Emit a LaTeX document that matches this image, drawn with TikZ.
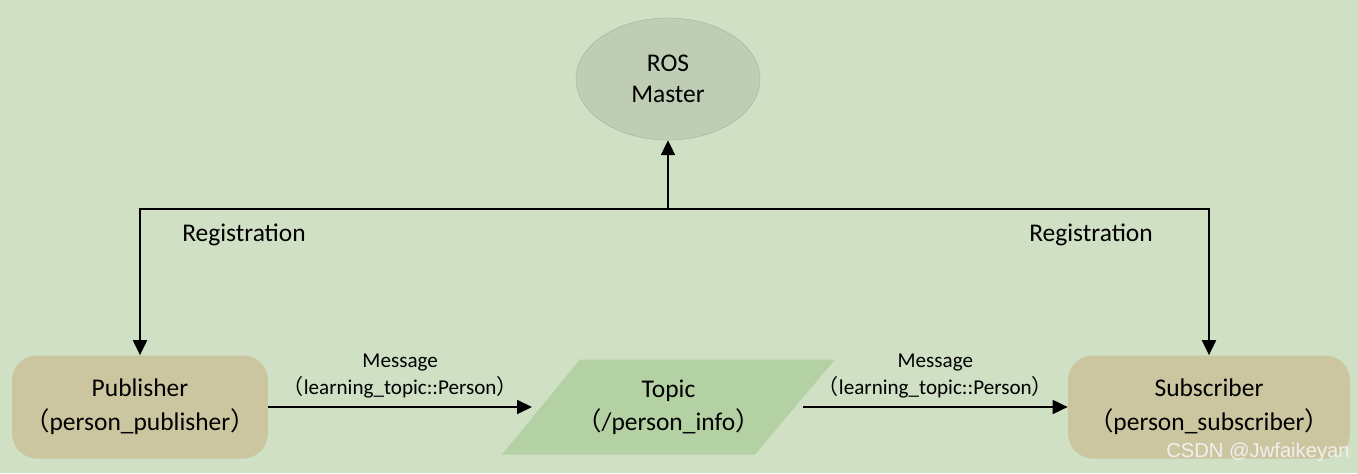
\documentclass[tikz,border=0pt]{standalone}
\usepackage{fontspec}
\setmainfont{Carlito}
\newfontfamily\cjk{Noto Sans CJK SC}
\newfontfamily\wmfont{Liberation Sans}
\usepackage{xcolor}
\usepackage{tikz}
\usetikzlibrary{arrows.meta,positioning,shapes.geometric}

\definecolor{bgcol}{RGB}{207,224,196}
\definecolor{mastercol}{RGB}{190,205,180}
\definecolor{nodecol}{RGB}{203,198,160}
\definecolor{topiccol}{RGB}{180,209,164}

\newcommand{\zlp}{{\cjk （}}
\newcommand{\zrp}{{\cjk ）}}

\begin{document}
\begin{tikzpicture}[
  x=1cm,
  y=1cm,
  box/.style={draw=none,fill=nodecol,rounded corners=0.5cm,minimum height=2.06cm,align=center,font=\fontsize{14.5}{19.5}\selectfont},
  txt/.style={font=\fontsize{14.5}{18}\selectfont,align=center},
  msg/.style={font=\fontsize{12}{15.3}\selectfont,align=center},
  arr/.style={-{Triangle[length=0.3cm,width=0.28cm]},line width=1.1pt}
]
  \fill[bgcol] (0,0) rectangle (27.16,9.46);
  \useasboundingbox (0,0) rectangle (27.16,9.46);

  \node[ellipse,fill=mastercol,draw=mastercol!85!black,very thin,minimum width=3.68cm,minimum height=2.44cm,txt] (master) at (13.36,7.88) {ROS\\Master};
  \node[box,minimum width=5.12cm] (pub) at (2.8,1.32) {Publisher\\\zlp person\_publisher\zrp};
  \node[box,minimum width=5.64cm] (sub) at (24.18,1.32) {Subscriber\\\zlp person\_subscriber\zrp};

  % topic parallelogram
  \coordinate (tc) at (13.37,1.32);
  \fill[topiccol] ([shift={(-1.77,0.95)}]tc) -- ([shift={(3.33,0.95)}]tc) -- ([shift={(1.73,-0.95)}]tc) -- ([shift={(-3.33,-0.95)}]tc) -- cycle;
  \node[txt,font=\fontsize{14.5}{19}\selectfont] (topic) at (tc) {Topic\\\zlp /person\_info\zrp};
  \coordinate (topicin) at ([xshift=-2.73cm]tc);
  \coordinate (topicout) at ([xshift=2.69cm]tc);

  \coordinate (hub) at (13.36,5.28);
  \draw[arr] (hub) -- (master.south);
  \draw[arr] (hub) -| (pub.north);
  \draw[arr] (hub) -| (sub.north);
  \node[txt] (regl) at (4.88,4.76) {Registration};
  \node[txt] (regr) at (21.82,4.76) {Registration};

  \draw[arr] (pub.east) -- node[above=1pt,msg] (msgl) {Message\\\zlp learning\_topic::Person\zrp} (topicin);
  \draw[arr] (topicout) -- node[above=1pt,msg] (msgr) {Message\\\zlp learning\_topic::Person\zrp} (sub.west);

  \node[font=\wmfont\fontsize{11.5}{13}\selectfont,text=white!88!gray] (mark) at (25.16,0.42) {CSDN @Jwfaikeyan};
\end{tikzpicture}
\end{document}
